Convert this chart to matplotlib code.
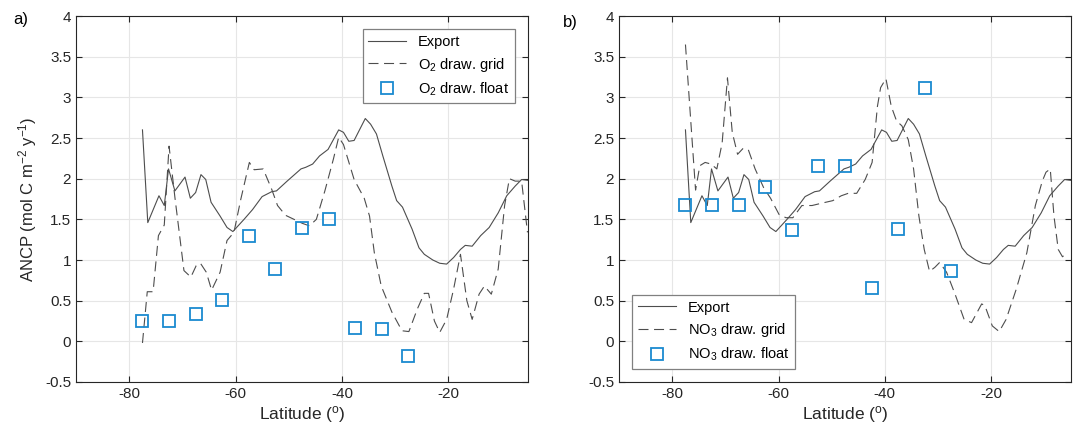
import numpy as np
import matplotlib
matplotlib.use('Agg')
import matplotlib.pyplot as plt
from matplotlib.ticker import FormatStrFormatter

plt.rcParams['font.family'] = ['Liberation Sans', 'DejaVu Sans']
plt.rcParams['mathtext.fontset'] = 'custom'
plt.rcParams['mathtext.rm'] = 'Liberation Sans'
plt.rcParams['mathtext.it'] = 'Liberation Sans'
plt.rcParams['axes.unicode_minus'] = False

# Export (same curve in both panels)
export_lat = [-77.5, -76.5, -74.4, -73.4, -72.6, -71.4, -69.5, -68.5, -67.5, -66.5,
              -65.6, -64.6, -62.9, -61.6, -60.5, -58.4, -56.8, -55.0, -53.2, -52.3,
              -50.3, -47.7, -46.8, -45.5, -44.2, -42.6, -40.6, -39.7, -38.7, -37.7,
              -35.6, -34.6, -33.5, -32.3, -30.6, -29.7, -28.6, -26.8, -25.5, -24.5,
              -22.9, -21.6, -20.3, -19.0, -17.7, -16.8, -15.5, -13.9, -12.3, -10.6,
              -9.0, -7.4, -6.2, -5.1]
export_val = [2.60, 1.46, 1.79, 1.67, 2.12, 1.85, 2.02, 1.76, 1.83, 2.05,
              1.99, 1.71, 1.54, 1.40, 1.35, 1.50, 1.62, 1.78, 1.84, 1.85,
              1.97, 2.12, 2.14, 2.18, 2.28, 2.36, 2.60, 2.57, 2.46, 2.47,
              2.74, 2.67, 2.55, 2.28, 1.91, 1.73, 1.65, 1.38, 1.15, 1.07,
              1.00, 0.96, 0.95, 1.03, 1.13, 1.18, 1.17, 1.30, 1.40, 1.58,
              1.79, 1.91, 1.99, 1.98]

# O2 drawdown, gridded
o2_lat = [-77.5, -76.6, -75.5, -74.5, -73.4, -72.5, -71.4, -69.7, -68.4, -67.4,
          -66.6, -65.5, -64.5, -62.9, -61.6, -60.3, -59.0, -57.4, -56.5, -54.8,
          -53.2, -52.1, -50.6, -49.0, -47.4, -46.1, -44.8, -43.2, -41.6, -40.6,
          -39.7, -37.7, -35.8, -34.8, -33.9, -32.6, -30.6, -28.7, -27.4, -25.8,
          -24.5, -23.7, -22.6, -21.6, -20.3, -19.0, -17.7, -16.5, -15.5, -14.2,
          -13.2, -11.9, -10.6, -9.4, -8.5, -7.4, -6.2, -5.1]
o2_val = [-0.02, 0.61, 0.61, 1.30, 1.43, 2.40, 1.77, 0.87, 0.79, 0.93,
          0.96, 0.85, 0.63, 0.85, 1.24, 1.34, 1.75, 2.20, 2.11, 2.12,
          1.87, 1.67, 1.55, 1.50, 1.45, 1.42, 1.50, 1.85, 2.24, 2.51,
          2.42, 1.99, 1.76, 1.54, 1.09, 0.68, 0.36, 0.13, 0.12, 0.40,
          0.59, 0.59, 0.25, 0.11, 0.27, 0.64, 1.07, 0.50, 0.27, 0.58,
          0.68, 0.58, 0.89, 1.67, 2.00, 1.97, 1.97, 1.34]

# NO3 drawdown, gridded
no3_lat = [-77.5, -75.6, -74.8, -73.8, -72.7, -71.6, -70.6, -69.6, -68.7, -67.7,
           -66.7, -65.7, -64.4, -62.8, -61.5, -59.9, -58.6, -57.3, -55.6, -53.7,
           -51.8, -49.8, -48.2, -46.9, -45.3, -43.7, -42.4, -41.4, -40.8, -39.8,
           -38.8, -37.8, -36.8, -35.6, -34.6, -33.6, -32.6, -31.6, -30.6, -29.7,
           -28.4, -26.8, -25.1, -23.7, -21.8, -21.2, -19.8, -18.5, -17.2, -15.3,
           -13.3, -11.7, -10.4, -9.7, -8.9, -8.2, -7.4, -6.6, -5.9]
no3_val = [3.65, 1.86, 2.16, 2.20, 2.18, 2.12, 2.44, 3.24, 2.57, 2.30,
           2.37, 2.36, 2.12, 1.89, 1.76, 1.56, 1.52, 1.52, 1.67, 1.67,
           1.70, 1.73, 1.79, 1.82, 1.82, 1.99, 2.20, 2.89, 3.12, 3.23,
           2.89, 2.71, 2.65, 2.48, 2.12, 1.54, 1.13, 0.86, 0.91, 0.97,
           0.85, 0.58, 0.27, 0.23, 0.46, 0.44, 0.19, 0.12, 0.27, 0.64,
           1.09, 1.67, 1.97, 2.08, 2.12, 1.54, 1.13, 1.04, 1.08]

# float estimates (5 degree bins)
float_lat = [-77.5, -72.5, -67.5, -62.5, -57.5, -52.5, -47.5, -42.5, -37.5, -32.5, -27.5]
o2_float = [0.25, 0.25, 0.33, 0.51, 1.30, 0.89, 1.39, 1.50, 0.17, 0.15, -0.18]
no3_float = [1.68, 1.68, 1.68, 1.90, 1.37, 2.15, 2.16, 0.65, 1.38, 3.12, 0.87]

line_col = '#4d4d4d'
sq_col = '#1a8ad0'

fig = plt.figure(figsize=(10.78, 4.28), dpi=100)
ax1 = fig.add_axes([0.0705, 0.1075, 0.4193, 0.855])
ax2 = fig.add_axes([0.5742, 0.1075, 0.4193, 0.855])

panels = [(ax1, o2_lat, o2_val, o2_float, 'O$_2$', 'upper right', 'a)'),
          (ax2, no3_lat, no3_val, no3_float, 'NO$_3$', 'lower left', 'b)')]

for ax, g_lat, g_val, f_val, name, loc, tag in panels:
    ax.plot(export_lat, export_val, '-', color=line_col, lw=0.8, label='Export')
    ax.plot(g_lat, g_val, '--', color=line_col, lw=0.8, dashes=(9, 5),
            label=name + ' draw. grid')
    ax.plot(float_lat, f_val, 's', ms=9, mfc='none', mec=sq_col, mew=1.3,
            linestyle='none', label=name + ' draw. float')
    ax.set_xlim(-90, -5)
    ax.set_ylim(-0.5, 4)
    ax.set_xticks([-80, -60, -40, -20])
    ax.set_yticks(np.arange(-0.5, 4.01, 0.5))
    ax.yaxis.set_major_formatter(FormatStrFormatter('%g'))
    ax.grid(True, color='#e6e6e6', lw=0.8)
    ax.set_axisbelow(True)
    ax.tick_params(direction='in', top=True, right=True, length=4,
                   labelsize=11, colors='#262626', width=0.8)
    for s in ax.spines.values():
        s.set_color('#262626')
        s.set_linewidth(0.8)
    ax.set_xlabel('Latitude ($^\\mathregular{o}$)', fontsize=12.5, color='#262626',
                  labelpad=2)
    leg = ax.legend(loc=loc, fontsize=10.5, fancybox=False, framealpha=1,
                    edgecolor='#808080', handlelength=2.6, borderaxespad=0.9,
                    labelspacing=0.45)
    leg.get_frame().set_linewidth(0.9)

ax1.set_ylabel('ANCP (mol C m$^{-2}$ y$^{-1}$)', fontsize=12, color='#262626')
fig.text(0.012, 0.955, 'a)', fontsize=12, va='center')
fig.text(0.522, 0.948, 'b)', fontsize=12, va='center')

fig.savefig('out.png', dpi=100)
